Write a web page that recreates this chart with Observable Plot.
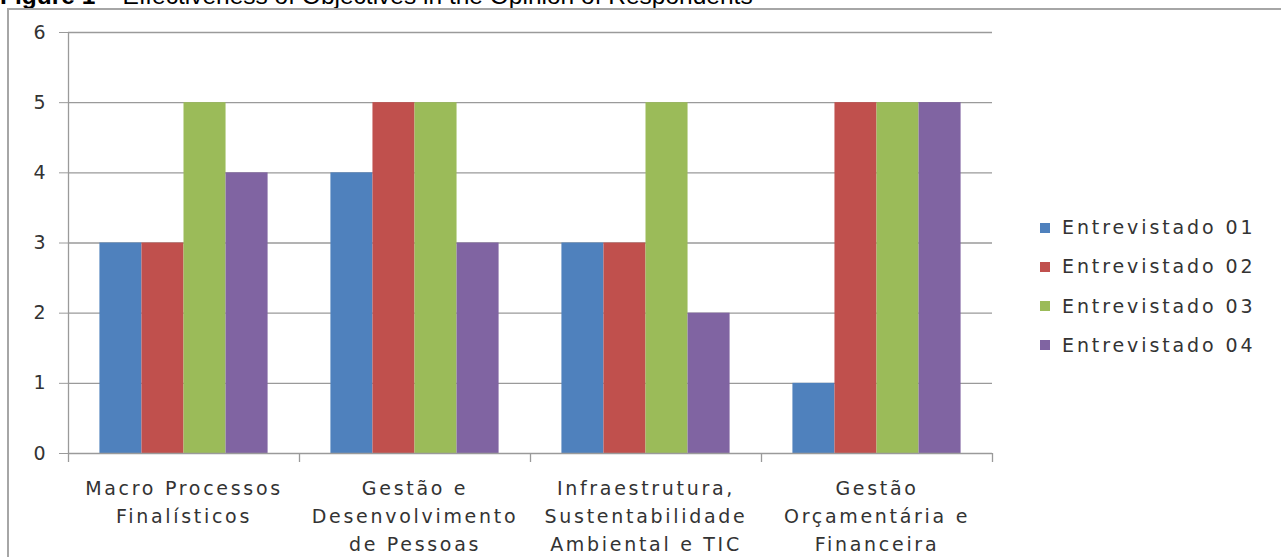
<!DOCTYPE html>
<html>
<head>
<meta charset="utf-8">
<script src="https://cdn.jsdelivr.net/npm/d3@7"></script>
<script src="https://cdn.jsdelivr.net/npm/@observablehq/plot@0.6"></script>
<style>
  html, body { margin: 0; padding: 0; background: #fff; overflow: hidden; }
  #wrap { position: relative; width: 1281px; height: 557px; overflow: hidden; }
  #title { position: absolute; left: 0; top: -17px; font-family: "Liberation Sans", Arial, sans-serif; font-size: 24.5px; line-height: 25px; color: #000; white-space: nowrap; }
  #chart { position: absolute; left: 0; top: 0; }
  #border { position: absolute; left: 7px; top: 8px; width: 1290px; height: 600px; border: 2px solid #a6a6a6; box-sizing: border-box; }
  #legend { position: absolute; left: 1040px; top: 208px; font-family: "DejaVu Sans", sans-serif; font-size: 19px; color: #333; letter-spacing: 2.9px; }
  #legend .row { position: relative; height: 39.3px; line-height: 39.3px; white-space: nowrap; }
  #legend .sw { position: absolute; left: 0; top: 14.5px; width: 10px; height: 10px; }
  #legend .lab { position: absolute; left: 22px; top: 0; }
  svg g[aria-label="text"] text { letter-spacing: 2.7px; }
</style>
</head>
<body>
<div id="wrap">
  <div id="chart"></div>
  <div id="title"><b>Figure 1</b> – Effectiveness of Objectives in the Opinion of Respondents</div>
  <div id="legend"></div>
  <div id="border"></div>
</div>
<script>
// ---- data ----
const categories = [
  "Macro Processos Finalísticos",
  "Gestão e Desenvolvimento de Pessoas",
  "Infraestrutura, Sustentabilidade Ambiental e TIC",
  "Gestão Orçamentária e Financeira"
];
const categoryLabels = [
  "Macro Processos\nFinalísticos",
  "Gestão e\nDesenvolvimento\nde Pessoas",
  "Infraestrutura,\nSustentabilidade\nAmbiental e TIC",
  "Gestão\nOrçamentária e\nFinanceira"
];
const series = ["Entrevistado 01", "Entrevistado 02", "Entrevistado 03", "Entrevistado 04"];
const entrevistado01 = [3, 4, 3, 1];
const entrevistado02 = [3, 5, 3, 5];
const entrevistado03 = [5, 5, 5, 5];
const entrevistado04 = [4, 3, 2, 5];
const yTicks = [0, 1, 2, 3, 4, 5, 6];
const colors = ["#4F81BD", "#C0504D", "#9BBB59", "#8064A2"];

// ---- build table ----
const valuesBySeries = [entrevistado01, entrevistado02, entrevistado03, entrevistado04];
const rows = [];
categories.forEach((c, ci) => {
  series.forEach((s, si) => {
    rows.push({category: c, ci, series: s, si, value: valuesBySeries[si][ci]});
  });
});

// group layout within each category band (in x units: one band = 1)
const groupPad = 0.136;
const barW = (1 - 2 * groupPad) / series.length;

const gridColor = "#9a9a9a";
const textColor = "#333333";

const chart = Plot.plot({
  width: 1281,
  height: 557,
  marginLeft: 68,
  marginRight: 289,
  marginTop: 32,
  marginBottom: 104,
  style: {fontFamily: "DejaVu Sans, sans-serif", background: "transparent", overflow: "visible"},
  x: {domain: [0, categories.length], axis: null},
  y: {domain: [0, 6], axis: null},
  color: {domain: series, range: colors},
  marks: [
    Plot.gridY(yTicks.filter(d => d > 0), {stroke: gridColor, strokeOpacity: 1, strokeWidth: 1.3}),
    Plot.axisY({ticks: yTicks, tickSize: 9, tickPadding: 14, fontSize: 19, label: null, stroke: gridColor, strokeOpacity: 1, fill: textColor, tickFormat: d => String(d)}),
    Plot.rectY(rows, {
      x1: d => d.ci + groupPad + d.si * barW,
      x2: d => d.ci + groupPad + (d.si + 1) * barW,
      y1: 0,
      y2: "value",
      fill: "series"
    }),
    Plot.ruleX([0], {y1: 0, y2: 6, stroke: gridColor, strokeWidth: 1.3}),
    Plot.ruleY([0], {stroke: gridColor, strokeWidth: 1.3}),
    Plot.axisX({ticks: d3.range(categories.length + 1), tickSize: 9, label: null, tickFormat: () => "", stroke: gridColor, strokeOpacity: 1, strokeWidth: 1.3}),
    Plot.text(categories, {
      x: (d, i) => i + 0.5,
      y: () => 0,
      text: (d, i) => categoryLabels[i],
      lineAnchor: "top",
      dy: 22,
      fontSize: 19,
      lineHeight: 1.47,
      fill: textColor
    })
  ]
});
document.getElementById("chart").appendChild(chart);

// ---- legend ----
const legend = document.getElementById("legend");
series.forEach((s, i) => {
  const row = document.createElement("div");
  row.className = "row";
  const sw = document.createElement("span");
  sw.className = "sw";
  sw.style.background = colors[i];
  const lab = document.createElement("span");
  lab.className = "lab";
  lab.textContent = s;
  row.appendChild(sw);
  row.appendChild(lab);
  legend.appendChild(row);
});
</script>
</body>
</html>
